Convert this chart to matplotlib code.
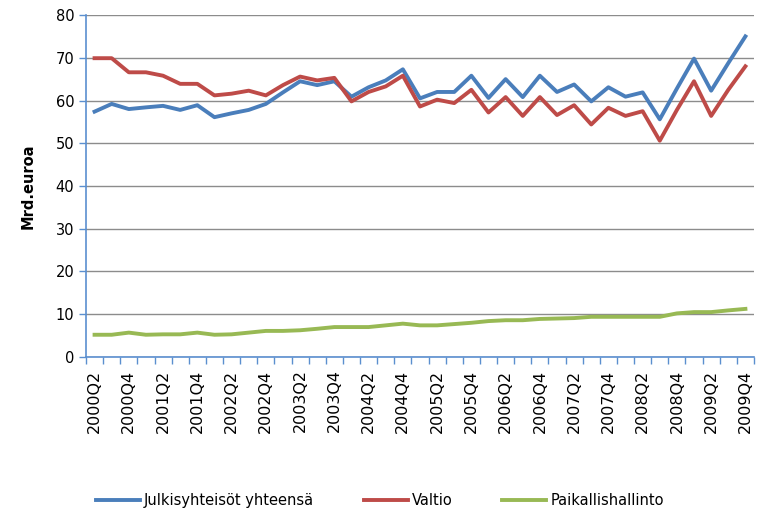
import numpy as np
import matplotlib
matplotlib.use("Agg")
import matplotlib.pyplot as plt

# Quarters 2000Q2 .. 2009Q4
quarters = ["%dQ%d" % (y, q) for y in range(2000, 2010) for q in range(1, 5)][1:]

julkis = [57.4, 59.2, 58.0, 58.4, 58.75, 57.8, 58.9, 56.1, 57.0, 57.8,
          59.2, 61.9, 64.5, 63.6, 64.5, 60.9, 63.1, 64.7, 67.3, 60.5,
          62.0, 62.0, 65.8, 60.6, 65.0, 60.8, 65.8, 62.0, 63.75, 59.8,
          63.1, 60.9, 61.9, 55.6, 62.8, 69.8, 62.3, 68.75, 75.0]
valtio = [69.9, 69.9, 66.6, 66.6, 65.8, 63.9, 63.9, 61.2, 61.6, 62.3,
          61.2, 63.6, 65.6, 64.7, 65.3, 59.8, 62.0, 63.3, 65.8, 58.6,
          60.2, 59.4, 62.5, 57.2, 60.8, 56.4, 60.8, 56.6, 58.9, 54.4,
          58.3, 56.4, 57.5, 50.6, 57.8, 64.5, 56.4, 62.5, 68.0]
paikallis = [5.2, 5.2, 5.7, 5.2, 5.3, 5.3, 5.7, 5.2, 5.3, 5.7,
             6.1, 6.1, 6.25, 6.6, 7.0, 7.0, 7.0, 7.4, 7.8, 7.4,
             7.4, 7.7, 8.0, 8.4, 8.6, 8.6, 8.9, 9.0, 9.1, 9.4,
             9.4, 9.4, 9.4, 9.4, 10.2, 10.5, 10.5, 10.9, 11.25]

axis_blue = "#5b8fcf"

fig = plt.figure(figsize=(7.57, 5.11), dpi=100)
ax = fig.add_axes([0.1136, 0.3014, 0.8824, 0.6692])

x = np.arange(len(quarters))
ax.plot(x, julkis, color="#4a7ebb", lw=2.8, label="Julkisyhteisöt yhteensä", zorder=3)
ax.plot(x, valtio, color="#be4b48", lw=2.8, label="Valtio", zorder=3)
ax.plot(x, paikallis, color="#98b954", lw=2.8, label="Paikallishallinto", zorder=3)

ax.set_xlim(-0.5, len(quarters) - 0.5)
ax.set_ylim(0, 80)
ax.set_yticks(range(0, 81, 10))
ax.yaxis.grid(True, color="#8c8c8c", lw=1.0)
ax.set_axisbelow(True)

ax.set_xticks(x[::2])
ax.set_xticklabels(quarters[::2], rotation=90, fontsize=11.5)
ax.set_xticks(np.arange(-0.5, len(quarters), 1), minor=True)
ax.tick_params(axis="x", which="major", length=0, pad=9)
ax.tick_params(axis="x", which="minor", length=5, color=axis_blue, width=1)
ax.tick_params(axis="y", length=5, color=axis_blue, width=1, labelsize=10.5)

for s in ["top", "right"]:
    ax.spines[s].set_visible(False)
for s in ["left", "bottom"]:
    ax.spines[s].set_color(axis_blue)
    ax.spines[s].set_linewidth(1.2)

ax.set_ylabel("Mrd.euroa", fontsize=10.5, fontweight="bold", labelpad=14)

ax.legend(loc="upper center", bbox_to_anchor=(0.44, -0.36), ncol=3, frameon=False,
          fontsize=10.5, handlelength=3.0, columnspacing=3.4, handletextpad=0.3)

fig.savefig("out.png", dpi=100)
